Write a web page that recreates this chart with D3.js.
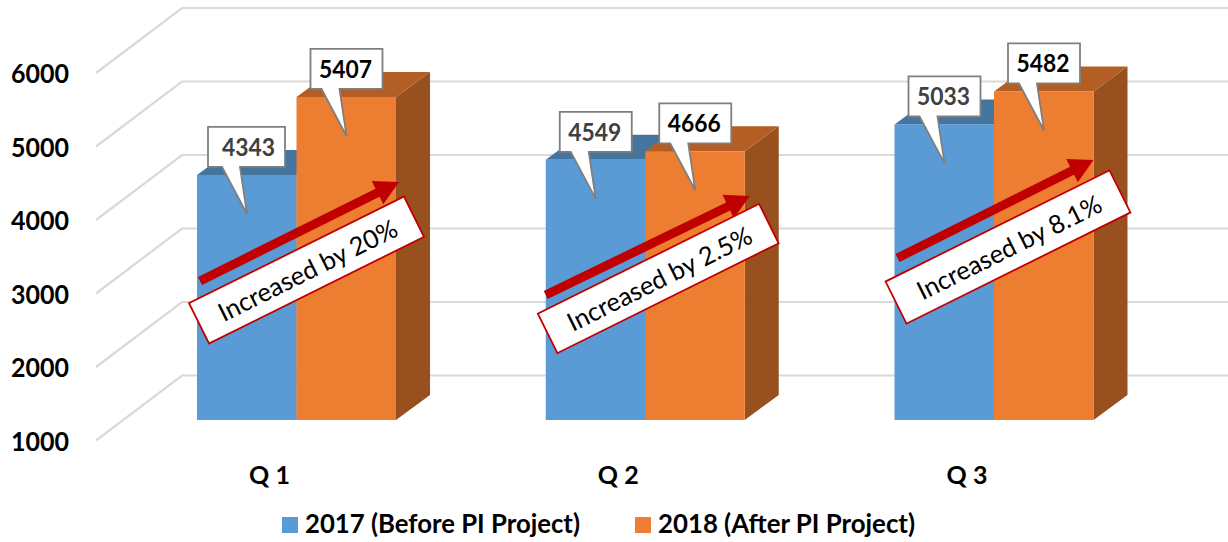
<!DOCTYPE html>
<html>
<head>
<meta charset="utf-8">
<script src="https://cdn.jsdelivr.net/npm/d3@7"></script>
<style>
  html, body { margin: 0; padding: 0; background: #fff; }
  svg { display: block; font-family: Lato, "Open Sans", sans-serif; }
</style>
</head>
<body>
<svg></svg>
<script>
const width = 1228, height = 542;

// Data
const quarters = ["Q 1", "Q 2", "Q 3"];
const seriesNames = ["2017 (Before PI Project)", "2018 (After PI Project)"];
const values2017 = [4343, 4549, 5033];
const values2018 = [5407, 4666, 5482];
const increaseLabels = ["Increased by 20%", "Increased by 2.5%", "Increased by 8.1%"];
const yTicks = [1000, 2000, 3000, 4000, 5000, 6000];

const colors = [
    { front: "#5B9BD5", top: "#44759F", side: "#3F6D96", text: "#404040" },
    { front: "#ED7D31", top: "#B35E25", side: "#97501E", text: "#000000" }
];

// Fake 3D offsets
const depth = { x: 34, y: -25 };       // bar depth
const wall = { x: 86, y: 65 };         // side wall of the chart

const svg = d3.select("svg").attr("width", width).attr("height", height);

const y = d3.scaleLinear().domain([1000, 6000]).range([420, 53.5]);
const yFront = d3.scaleLinear().domain([1000, 6000]).range([440.5, 73]);   // front edge of the wall
const x0 = d3.scalePoint().domain(quarters).range([296.5, 994]);
const x1 = d3.scaleBand().domain([0, 1]).range([-99.5, 99.5]);

// Gridlines: floor/back wall plus the slanted side wall
const grid = svg.append("g");
yTicks.forEach(v => {
    const front = yFront(v), back = front - wall.y;
    grid.append("path")
        .attr("d", d3.line()([[96, front], [96 + wall.x, back], [width, back]]))
        .attr("fill", "none")
        .attr("stroke", "#D9D9D9")
        .attr("stroke-width", 2.2);
});

// Y labels
svg.selectAll(".ytick")
    .data(yTicks)
    .enter().append("text")
    .attr("class", "ytick")
    .attr("x", 11)
    .attr("y", d => yFront(d) + 10)
    .attr("font-size", 27)
    .attr("font-weight", 700)
    .attr("fill", "#000")
    .attr("textLength", 58)
    .attr("lengthAdjust", "spacingAndGlyphs")
    .text(d => d);

// Bars
const allSeries = [values2017, values2018];
const line = d3.line();
allSeries.forEach((values, s) => {
    quarters.forEach((q, i) => {
        const left = x0(q) + x1(s), right = left + x1.bandwidth();
        const top = y(values[i]), bottom = y(1000);
        const g = svg.append("g");
        g.append("path")
            .attr("d", line([[right, top], [right + depth.x, top + depth.y], [right + depth.x, bottom + depth.y], [right, bottom]]) + "Z")
            .attr("fill", colors[s].side);
        g.append("path")
            .attr("d", line([[left, top], [left + depth.x, top + depth.y], [right + depth.x, top + depth.y], [right, top]]) + "Z")
            .attr("fill", colors[s].top);
        g.append("rect")
            .attr("x", left)
            .attr("y", top)
            .attr("width", x1.bandwidth())
            .attr("height", bottom - top)
            .attr("fill", colors[s].front);
    });
});

// Increase arrows and their rotated labels, offsets are from the group's left edge
const arrowLayout = [
    { x1: 3, y1: 281, x2: 202, y2: 182, cx: 109.5, cy: 270, w: 240, h: 45 },
    { x1: 0, y1: 295, x2: 204, y2: 196, cx: 112.5, cy: 278.5, w: 247, h: 44 },
    { x1: 3, y1: 258, x2: 199, y2: 160, cx: 113.5, cy: 247, w: 250, h: 47 }
];
quarters.forEach((q, i) => {
    const a = arrowLayout[i], left = x0(q) + x1(0);
    const ang = Math.atan2(a.y2 - a.y1, a.x2 - a.x1);
    const len = Math.hypot(a.x2 - a.x1, a.y2 - a.y1);
    const g = svg.append("g")
        .attr("transform", `translate(${left + a.x1},${a.y1}) rotate(${ang * 180 / Math.PI})`);
    g.append("path")
        .attr("d", line([[0, -4.5], [len - 24, -4.5], [len - 24, -13], [len, 0], [len - 24, 13], [len - 24, 4.5], [0, 4.5]]) + "Z")
        .attr("fill", "#C00000");

    const box = svg.append("g")
        .attr("transform", `translate(${left + a.cx},${a.cy}) rotate(-26.4)`);
    box.append("rect")
        .attr("x", -a.w / 2)
        .attr("y", -a.h / 2)
        .attr("width", a.w)
        .attr("height", a.h)
        .attr("fill", "#fff")
        .attr("stroke", "#C00000")
        .attr("stroke-width", 1.8);
    box.append("text")
        .attr("text-anchor", "middle")
        .attr("x", 1)
        .attr("y", 10)
        .attr("font-size", 25.5)
        .attr("fill", "#000")
        .text(increaseLabels[i]);
});

// Value callouts
allSeries.forEach((values, s) => {
    quarters.forEach((q, i) => {
        const tipX = x0(q) + x1(s) + 50, tipY = y(values[i]) + 39;
        const wide = s === 0 && i === 0;      // first one is a bit wider in the original
        const l = tipX - (wide ? 39 : 36), r = tipX + (wide ? 38 : 36);
        const t = tipY - 87, b = tipY - 47;
        svg.append("path")
            .attr("d", line([[l, t], [r, t], [r, b], [tipX - 7, b], [tipX, tipY], [tipX - 25, b], [l, b]]) + "Z")
            .attr("fill", "#fff")
            .attr("stroke", "#7F7F7F")
            .attr("stroke-width", 1.8);
        svg.append("text")
            .attr("x", (l + r) / 2 + (wide ? 3 : 0) - 27.5)
            .attr("y", t + 29)
            .attr("font-size", 25.5)
            .attr("font-weight", 700)
            .attr("fill", colors[s].text)
            .attr("textLength", 53)
            .attr("lengthAdjust", "spacingAndGlyphs")
            .text(values[i]);
    });
});

// Quarter labels
svg.selectAll(".qlabel")
    .data(quarters)
    .enter().append("text")
    .attr("class", "qlabel")
    .attr("x", d => x0(d) - 27)
    .attr("y", 484)
    .attr("text-anchor", "middle")
    .attr("font-size", 25)
    .attr("font-weight", 700)
    .attr("fill", "#000")
    .text(d => d);

// Legend
const legendX = [282, 635];
const legendTextLength = [275, 257];
seriesNames.forEach((name, s) => {
    svg.append("rect")
        .attr("x", legendX[s])
        .attr("y", 517)
        .attr("width", 16)
        .attr("height", 16)
        .attr("fill", colors[s].front);
    svg.append("text")
        .attr("x", legendX[s] + 23)
        .attr("y", 533)
        .attr("font-size", 26.5)
        .attr("font-weight", 700)
        .attr("fill", "#000")
        .attr("textLength", legendTextLength[s])
        .attr("lengthAdjust", "spacingAndGlyphs")
        .text(name);
});
</script>
</body>
</html>
